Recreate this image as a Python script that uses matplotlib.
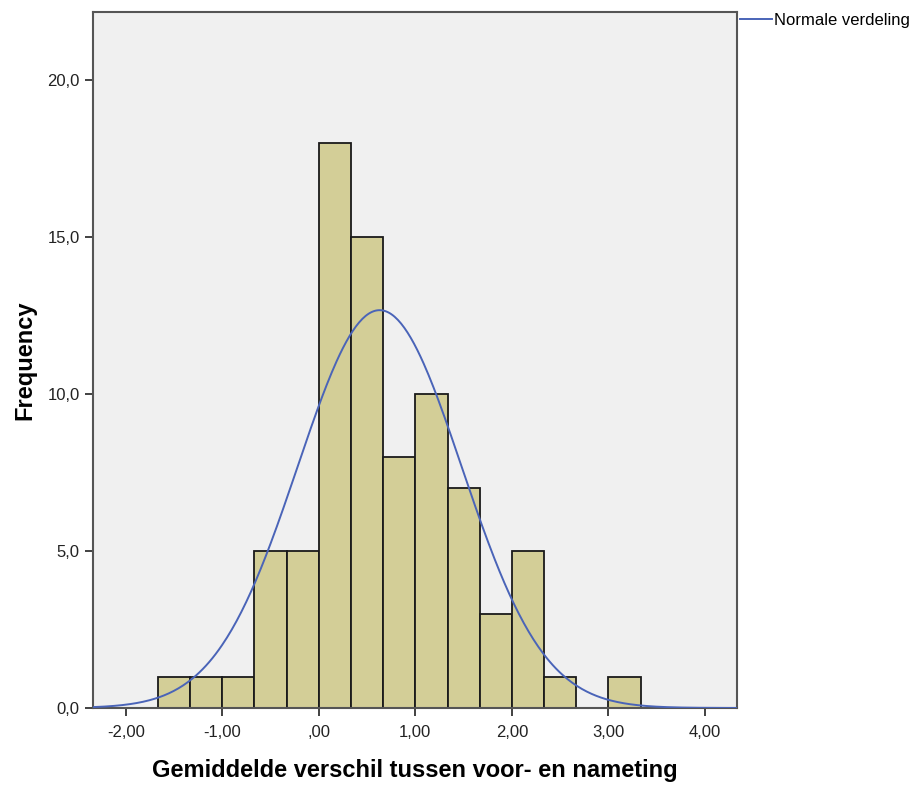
import numpy as np
import matplotlib
matplotlib.use("Agg")
import matplotlib.pyplot as plt

plt.rcParams['font.family'] = ['Liberation Sans', 'DejaVu Sans']

# histogram data
bin_edges = [-5/3, -4/3, -1, -2/3, -1/3, 0, 1/3, 2/3, 1, 4/3, 5/3, 2, 7/3, 8/3, 3, 10/3]
counts = [1, 1, 1, 5, 5, 18, 15, 8, 10, 7, 3, 5, 1, 0, 1]

# fitted normal curve
n_cases = 81
mean_diff = 0.63
sd_diff = 0.85

xticks = [-2, -1, 0, 1, 2, 3, 4]
xtick_labels = ["-2,00", "-1,00", ",00", "1,00", "2,00", "3,00", "4,00"]
yticks = [0, 5, 10, 15, 20]
ytick_labels = ["0,0", "5,0", "10,0", "15,0", "20,0"]

fig = plt.figure(figsize=(9.17, 7.85), dpi=100)
ax = fig.add_axes([0.1014, 0.0981, 0.7020, 0.8866])
ax.set_facecolor("#F0F0F0")

lefts = np.array(bin_edges[:-1])
widths = np.diff(bin_edges)
ax.bar(lefts, counts, width=widths, align="edge", color="#D3CE97",
       edgecolor="#1a1a1a", linewidth=1.3, zorder=2)

bw = widths[0]
xs = np.linspace(-2.34, 4.33, 400)
ys = n_cases * bw / (sd_diff * np.sqrt(2 * np.pi)) * np.exp(-0.5 * ((xs - mean_diff) / sd_diff) ** 2)
ax.plot(xs, ys, color="#4a64b8", linewidth=1.4, zorder=3, label="Normale verdeling")

ax.set_xlim(-2.34, 4.33)
ax.set_ylim(0, 22.17)
ax.set_xticks(xticks)
ax.set_xticklabels(xtick_labels)
ax.set_yticks(yticks)
ax.set_yticklabels(ytick_labels)
ax.tick_params(direction="out", length=6, width=1.3, color="#333333",
               labelsize=12, labelcolor="#222222")
ax.tick_params(axis="x", pad=6)

for s in ax.spines.values():
    s.set_color("#555555")
    s.set_linewidth(1.5)

ax.set_xlabel("Gemiddelde verschil tussen voor- en nameting", fontsize=17,
              fontweight="bold", labelpad=14)
ax.set_ylabel("Frequency", fontsize=17, fontweight="bold", labelpad=8)

ax.legend(loc="upper left", bbox_to_anchor=(1.0, 1.003), frameon=False,
          fontsize=12, handlelength=1.9, handletextpad=0.15,
          borderaxespad=0.0, borderpad=0.2)

fig.savefig("out.png", dpi=100)
